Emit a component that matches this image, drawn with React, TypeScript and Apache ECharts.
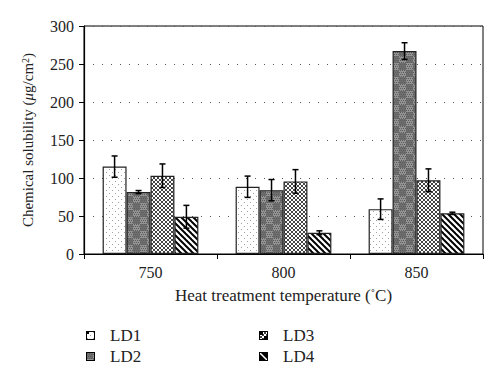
import React, { useEffect, useRef } from "react";
import * as echarts from "echarts";

const categories = ["750", "800", "850"];
const seriesNames = ["LD1", "LD2", "LD3", "LD4"];
const LD1 = [115, 88.5, 59];
const LD2 = [81.5, 84, 267];
const LD3 = [103, 95.5, 97];
const LD4 = [49, 28, 53.5];
const LD1err = [14, 14, 13.5];
const LD2err = [2, 14, 11];
const LD3err = [15.5, 15.5, 15];
const LD4err = [15, 2.5, 1.5];
const yTicks = [0, 50, 100, 150, 200, 250, 300];

const values = [LD1, LD2, LD3, LD4];
const errors = [LD1err, LD2err, LD3err, LD4err];

const FONT = "'Liberation Serif', 'DejaVu Serif', serif";
const GAP = 0.28;

function makePattern(kind: number): HTMLCanvasElement {
  const c = document.createElement("canvas");
  const ctx = c.getContext("2d")!;
  if (kind === 0) {
    c.width = 6; c.height = 6;
    ctx.fillStyle = "#fff"; ctx.fillRect(0, 0, 6, 6);
    ctx.fillStyle = "#a0a0a0";
    ctx.fillRect(1, 1, 1, 1);
    ctx.fillRect(4, 4, 1, 1);
  } else if (kind === 1) {
    c.width = 14; c.height = 14;
    ctx.fillStyle = "#939393"; ctx.fillRect(0, 0, 14, 14);
    ctx.fillStyle = "#6e6e6e";
    ctx.fillRect(0, 0, 7, 7);
    ctx.fillRect(7, 7, 7, 7);
    ctx.fillStyle = "#5e5e5e";
    for (let y = 0; y < 14; y += 2) for (let x = (y / 2) % 2; x < 14; x += 2) ctx.fillRect(x, y, 1, 1);
  } else if (kind === 2) {
    c.width = 4; c.height = 4;
    ctx.fillStyle = "#fff"; ctx.fillRect(0, 0, 4, 4);
    ctx.fillStyle = "#444";
    for (let k = 0; k < 4; k++) {
      ctx.fillRect(k, k, 1, 1);
      ctx.fillRect(3 - k, k, 1, 1);
    }
  } else {
    c.width = 6; c.height = 6;
    ctx.fillStyle = "#fff"; ctx.fillRect(0, 0, 6, 6);
    ctx.strokeStyle = "#000"; ctx.lineWidth = 2;
    for (const k of [-6, 0, 6]) {
      ctx.beginPath(); ctx.moveTo(k - 1, -1); ctx.lineTo(k + 7, 7); ctx.stroke();
    }
  }
  return c;
}

function makeIcon(kind: number): string {
  const c = document.createElement("canvas");
  c.width = 9; c.height = 9;
  const ctx = c.getContext("2d")!;
  const p = ctx.createPattern(makePattern(kind), "repeat")!;
  ctx.fillStyle = p;
  ctx.fillRect(0, 0, 9, 9);
  if (kind === 0) {
    ctx.fillStyle = "#000";
    ctx.fillRect(1, 1, 2, 2);
  } else if (kind === 2) {
    ctx.fillStyle = "#000";
    ctx.fillRect(1, 1, 3, 3);
    ctx.fillRect(5, 5, 3, 3);
  } else if (kind === 3) {
    ctx.fillStyle = "#000";
    ctx.fillRect(0, 0, 9, 9);
    ctx.strokeStyle = "#fff"; ctx.lineWidth = 1.5;
    ctx.beginPath(); ctx.moveTo(1, 1); ctx.lineTo(8, 8); ctx.stroke();
  }
  ctx.strokeStyle = "#000"; ctx.lineWidth = 1;
  ctx.strokeRect(0.5, 0.5, 8, 8);
  return "image://" + c.toDataURL();
}

export default function App() {
  const ref = useRef<HTMLDivElement>(null);
  useEffect(() => {
    const chart = echarts.init(ref.current!, null, { renderer: "svg" });
    const barSeries = seriesNames.map((name, i) => ({
      name,
      type: "bar",
      data: values[i],
      barGap: "0%",
      barCategoryGap: GAP * 100 + "%",
      itemStyle: {
        color: { image: makePattern(i), repeat: "repeat" },
        borderColor: "#222",
        borderWidth: 1.2,
      },
    }));
    const errSeries = seriesNames.map((name, s) => ({
      name: name + "_err",
      type: "custom",
      z: 10,
      data: values[s].map((v, k) => [k, v, errors[s][k]]),
      renderItem: (params: any, api: any) => {
        const cat = api.value(0);
        const v = api.value(1);
        const e = api.value(2);
        const c = api.coord([cat, v]);
        const catW = api.size([1, 0])[0];
        const barW = (catW * (1 - GAP)) / 4;
        const x = c[0] + (s - 2 + 0.5) * barW;
        const top = api.coord([cat, v + e])[1];
        const bot = api.coord([cat, v - e])[1];
        const st = { stroke: "#000", lineWidth: 1.5 };
        return {
          type: "group",
          children: [
            { type: "line", shape: { x1: x, y1: top, x2: x, y2: bot }, style: st },
            { type: "line", shape: { x1: x - 3, y1: top, x2: x + 3, y2: top }, style: st },
            { type: "line", shape: { x1: x - 3, y1: bot, x2: x + 3, y2: bot }, style: st },
          ],
        };
      },
    }));
    const legendBase = {
      orient: "vertical",
      itemWidth: 9,
      itemHeight: 9,
      itemGap: 4,
      selectedMode: false,
      textStyle: { fontFamily: FONT, fontSize: 17, color: "#222", padding: [0, 0, 0, 10] },
    };
    const icons = seriesNames.map((_, i) => makeIcon(i));
    chart.setOption({
      animation: false,
      backgroundColor: "#fff",
      grid: {
        left: 84,
        right: 17,
        top: 26,
        bottom: 127,
        show: true,
        borderColor: "#000",
        borderWidth: 1,
        backgroundColor: "transparent",
      },
      legend: [
        { ...legendBase, left: 81, top: 322, data: [{ name: "LD1", icon: icons[0] }, { name: "LD2", icon: icons[1] }] },
        { ...legendBase, left: 254, top: 322, data: [{ name: "LD3", icon: icons[2] }, { name: "LD4", icon: icons[3] }] },
      ],
      xAxis: {
        type: "category",
        data: categories,
        name: "Heat treatment temperature ({d|˚}C)",
        nameLocation: "middle",
        nameGap: 33,
        nameTextStyle: {
          fontFamily: FONT,
          fontSize: 17,
          color: "#222",
          rich: { d: { fontFamily: FONT, fontSize: 13, color: "#222", verticalAlign: "top" } },
        },
        axisLine: { lineStyle: { color: "#000", width: 1.2 } },
        axisTick: { show: true, length: 5, lineStyle: { color: "#000" } },
        axisLabel: { fontFamily: FONT, fontSize: 16, color: "#222", margin: 10 },
      },
      yAxis: {
        type: "value",
        min: yTicks[0],
        max: yTicks[yTicks.length - 1],
        interval: 50,
        name: "Chemical solubility ({i|μ}g/cm{s|2})",
        nameLocation: "middle",
        nameGap: 48,
        nameTextStyle: {
          fontFamily: FONT,
          fontSize: 15,
          color: "#222",
          rich: {
            i: { fontFamily: FONT, fontSize: 15, fontStyle: "italic", color: "#222" },
            s: { fontFamily: FONT, fontSize: 10, color: "#222", verticalAlign: "top", padding: [0, 0, 6, 0] },
          },
        },
        axisLine: { show: true, lineStyle: { color: "#000", width: 1.2 } },
        axisTick: { show: true, length: 5, lineStyle: { color: "#000" } },
        axisLabel: { fontFamily: FONT, fontSize: 16, color: "#222", margin: 10 },
        splitLine: { show: true, lineStyle: { color: "#555", type: [1, 8], width: 1 } },
      },
      series: [...barSeries, ...errSeries],
    });
    return () => chart.dispose();
  }, []);
  return <div ref={ref} style={{ width: 500, height: 381, position: "absolute", left: 0, top: 0 }} />;
}
